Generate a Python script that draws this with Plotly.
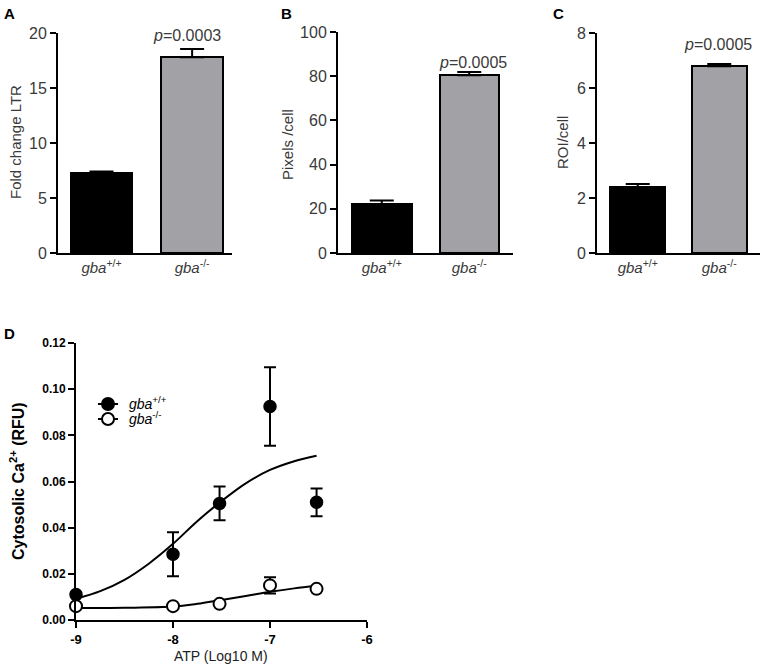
import plotly.graph_objects as go

# ---------------- data ----------------
genotypes = ["<i>gba</i><sup>+/+</sup>", "<i>gba</i><sup>-/-</sup>"]

ltr_vals = [7.25, 17.8]
ltr_err = [0.17, 0.75]

pix_vals = [22.0, 80.4]
pix_err = [1.7, 1.5]

roi_vals = [2.39, 6.79]
roi_err = [0.12, 0.08]

p_values = ["<i>p</i>=0.0003", "<i>p</i>=0.0005", "<i>p</i>=0.0005"]

atp_x = [-9, -8, -7.52, -7, -6.52]
wt_y = [0.011, 0.0285, 0.0505, 0.0925, 0.051]
wt_err = [0.0, 0.0095, 0.0073, 0.017, 0.006]
ko_y = [0.006, 0.006, 0.007, 0.015, 0.0135]
ko_err = [0.0, 0.0, 0.0, 0.0035, 0.0]

wt_fit_x = [-9, -8.75, -8.5, -8.25, -8, -7.75, -7.5, -7.25, -7, -6.75, -6.52]
wt_fit_y = [0.0092, 0.0125, 0.0174, 0.0244, 0.033, 0.0428, 0.0515, 0.0592, 0.065, 0.0688, 0.0712]
ko_fit_x = [-9, -8.5, -8, -7.75, -7.5, -7.25, -7, -6.75, -6.52]
ko_fit_y = [0.0052, 0.0053, 0.0058, 0.007, 0.0087, 0.0104, 0.0122, 0.0137, 0.0148]

y_titles = ["Fold change LTR", "Pixels /cell", "ROI/cell"]

# ---------------- figure ----------------
W, H = 765, 668
FONT = "Liberation Sans, Arial, sans-serif"
GREY_TXT = "#3a3a3a"


def px(x):
    return x / W


def py(y):
    return 1 - y / H


fig = go.Figure()

bar_colors = ["#000000", "#a2a2a6"]
panels = [
    (ltr_vals, ltr_err, "x", "y"),
    (pix_vals, pix_err, "x2", "y2"),
    (roi_vals, roi_err, "x3", "y3"),
]
for vals, err, xa, ya in panels:
    fig.add_trace(go.Bar(
        x=[0, 1], y=vals, xaxis=xa, yaxis=ya, width=0.68,
        marker=dict(color=bar_colors, line=dict(color="black", width=2)),
        error_y=dict(type="data", symmetric=False, array=err, arrayminus=[0, 0],
                     color="black", thickness=2, width=12),
        showlegend=False,
    ))

# panel D
fig.add_trace(go.Scatter(x=wt_fit_x, y=wt_fit_y, mode="lines", line=dict(color="black", width=2, shape="spline", smoothing=1),
                         xaxis="x4", yaxis="y4", showlegend=False, cliponaxis=False))
fig.add_trace(go.Scatter(x=ko_fit_x, y=ko_fit_y, mode="lines", line=dict(color="black", width=2, shape="spline", smoothing=1),
                         xaxis="x4", yaxis="y4", showlegend=False, cliponaxis=False))
fig.add_trace(go.Scatter(
    x=atp_x, y=wt_y, mode="markers", xaxis="x4", yaxis="y4", cliponaxis=False,
    marker=dict(color="black", size=12, line=dict(color="black", width=1.5)),
    error_y=dict(type="data", array=wt_err, color="black", thickness=2, width=6),
    name=genotypes[0], showlegend=False))
fig.add_trace(go.Scatter(
    x=atp_x, y=ko_y, mode="markers", xaxis="x4", yaxis="y4", cliponaxis=False,
    marker=dict(color="white", size=12, line=dict(color="black", width=2)),
    error_y=dict(type="data", array=ko_err, color="black", thickness=2, width=6),
    name=genotypes[1], showlegend=False))

bar_ax = dict(showgrid=False, zeroline=False, showline=True, linecolor="black", linewidth=2,
              ticks="", automargin=False, tickfont=dict(family=FONT, size=15, color=GREY_TXT),
              tickmode="array", tickvals=[0, 1], ticktext=genotypes, fixedrange=True)
bar_y = dict(showgrid=False, zeroline=False, showline=True, linecolor="black", linewidth=2,
             ticks="outside", ticklen=6, tickwidth=2, tickcolor="black", automargin=False,
             tickfont=dict(family=FONT, size=16, color=GREY_TXT))

fig.update_layout(
    width=W, height=H, margin=dict(l=0, r=0, t=0, b=0, autoexpand=False),
    paper_bgcolor="white", plot_bgcolor="white",
    font=dict(family=FONT, color="black"),
    bargap=0, showlegend=False,
    xaxis=dict(bar_ax, domain=[px(58), px(232)], range=[-0.48, 1.44], anchor="y"),
    yaxis=dict(bar_y, domain=[py(253), py(33)], range=[0, 20], tickvals=[0, 5, 10, 15, 20], anchor="x"),
    xaxis2=dict(bar_ax, domain=[px(338), px(513)], range=[-0.5, 1.5], anchor="y2"),
    yaxis2=dict(bar_y, domain=[py(253), py(32)], range=[0, 100], tickvals=[0, 20, 40, 60, 80, 100], anchor="x2"),
    xaxis3=dict(bar_ax, domain=[px(597), px(760)], range=[-0.5, 1.5], anchor="y3"),
    yaxis3=dict(bar_y, domain=[py(253), py(33)], range=[0, 8], tickvals=[0, 2, 4, 6, 8], anchor="x3"),
    xaxis4=dict(domain=[px(76), px(367)], range=[-9, -6], anchor="y4", automargin=False,
                showgrid=False, zeroline=False, showline=True, linecolor="black", linewidth=2,
                ticks="outside", ticklen=6, tickwidth=2, tickcolor="black",
                tickvals=[-9, -8, -7, -6], ticktext=["-9", "-8", "-7", "-6"],
                tickfont=dict(family=FONT, size=13, color="black", weight="bold")),
    yaxis4=dict(domain=[py(620), py(343)], range=[0, 0.12], anchor="x4", automargin=False,
                showgrid=False, zeroline=False, showline=True, linecolor="black", linewidth=2,
                ticks="outside", ticklen=6, tickwidth=2, tickcolor="black",
                tickvals=[0, 0.02, 0.04, 0.06, 0.08, 0.10, 0.12], tickformat=".2f",
                tickfont=dict(family=FONT, size=12, color="black", weight="bold")),
)

ann = []
shapes = []


def add_text(text, x, y, size, color, angle=0, xanchor="center"):
    ann.append(dict(text=text, x=px(x), y=py(y), xref="paper", yref="paper",
                    xanchor=xanchor, yanchor="middle", textangle=angle,
                    showarrow=False, font=dict(family=FONT, size=size, color=color)))


# panel letters
for letter, x, y in [("A", 9, 13), ("B", 286, 13), ("C", 558, 13), ("D", 9, 333)]:
    add_text("<b>%s</b>" % letter, x, y, 15, "black")
# y titles
for t, x, y in zip(y_titles, [16, 287, 563], [142, 145, 143]):
    add_text(t, x, y, 15, GREY_TXT, -90)
# p-values
for t, x, y in zip(p_values, [187, 473, 718], [35, 62, 45]):
    add_text(t, x, y, 16, GREY_TXT)
# panel D titles
add_text("<b>Cytosolic Ca<sup>2+</sup> (RFU)</b>", 17, 481, 16, "black", -90)
add_text("ATP (Log10 M)", 221, 656, 14, "#222222")

# manual legend for panel D
for label, fill, row_y in zip(genotypes, ["black", "white"], [404, 419]):
    shapes.append(dict(type="line", xref="paper", yref="paper", x0=px(98), x1=px(118),
                       y0=py(row_y), y1=py(row_y), line=dict(color="black", width=2)))
    shapes.append(dict(type="circle", xref="paper", yref="paper", x0=px(102), x1=px(114),
                       y0=py(row_y + 6), y1=py(row_y - 6), fillcolor=fill,
                       line=dict(color="black", width=2)))
    add_text(label, 127, row_y - 1, 14, "black", xanchor="left")

fig.update_layout(annotations=ann, shapes=shapes)

fig.write_html("out.html", config={"displayModeBar": False},
               post_script="document.body.style.margin='0';document.body.style.padding='0';")
